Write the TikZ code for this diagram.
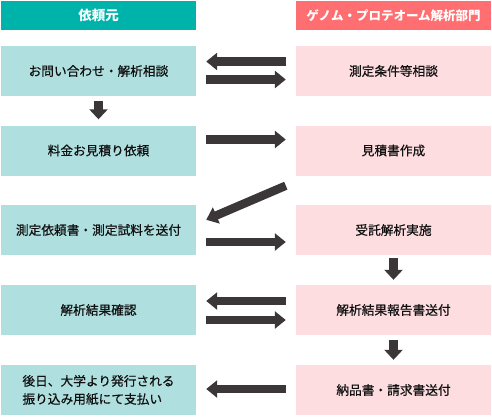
\documentclass[tikz,border=0pt]{standalone}
\usepackage{fontspec}
\newfontfamily\jp{Noto Sans CJK JP}
\newfontfamily\jpm[FakeBold=0.5]{Noto Sans CJK JP}
\usetikzlibrary{arrows.meta}
\definecolor{hdL}{HTML}{00B3AA}
\definecolor{hdR}{HTML}{FF6E70}
\definecolor{bxL}{HTML}{B0DFDF}
\definecolor{bxR}{HTML}{FDDDE0}
\definecolor{arr}{HTML}{3B3738}
\definecolor{txt}{HTML}{111111}
\begin{document}
\begin{tikzpicture}[x=1bp,y=-1bp,
  hdbox/.style={minimum width=195bp,minimum height=29bp,inner sep=0pt,text=white,font=\jp\bfseries\fontsize{12.5bp}{15bp}\selectfont},
  lbox/.style={fill=bxL,minimum width=195bp,minimum height=50bp,inner sep=0pt,text=txt,font=\jpm\fontsize{12.7bp}{18bp}\selectfont},
  rbox/.style={lbox,fill=bxR},
  bigarrow/.style={draw=arr,line width=8.5bp,-{Triangle[length=11bp,width=17bp]}},
  vbigarrow/.style={draw=arr,line width=8.5bp,-{Triangle[length=10bp,width=18bp]}}]
\useasboundingbox (0,0) rectangle (492,416);
\node[hdbox,fill=hdL,font=\jp\bfseries\fontsize{13.5bp}{15bp}\selectfont] (hL) at (98.5,15.5) {依頼元};
\node[hdbox,fill=hdR] (hR) at (393.5,15.5) {ゲノム・プロテオーム解析部門};
\node[lbox] (a1) at (98.5,71) {お問い合わせ・解析相談};
\node[rbox] (b1) at (393.5,71) {測定条件等相談};
\node[lbox] (a2) at (98.5,150.5) {料金お見積り依頼};
\node[rbox] (b2) at (393.5,150.5) {見積書作成};
\node[lbox] (a3) at (98.5,230) {測定依頼書・測定試料を送付};
\node[rbox] (b3) at (393.5,230) {受託解析実施};
\node[lbox] (a4) at (98.5,310) {解析結果確認};
\node[rbox] (b4) at (393.5,310) {解析結果報告書送付};
\node[lbox,align=left] (a5) at (98.5,390) {後日、大学より発行される\\振り込み用紙にて支払い};
\node[rbox] (b5) at (393.5,390) {納品書・請求書送付};
% row 1
\draw[bigarrow] ([xshift=-10bp,yshift=9.5bp]b1.west) -- ([xshift=10bp,yshift=9.5bp]a1.east);
\draw[bigarrow] ([xshift=10bp,yshift=-8.5bp]a1.east) -- ([xshift=-10bp,yshift=-8.5bp]b1.west);
\draw[vbigarrow] ([yshift=-5bp]a1.south) -- ([yshift=6bp]a2.north);
% row 2
\draw[bigarrow] ([xshift=10bp,yshift=11bp]a2.east) -- ([xshift=-10bp,yshift=11bp]b2.west);
\draw[bigarrow] ([xshift=-10bp,yshift=-10bp]b2.south west) -- ([xshift=10bp,yshift=-15bp]a3.north east);
% row 3
\draw[bigarrow] ([xshift=10bp,yshift=-12bp]a3.east) -- ([xshift=-10bp,yshift=-12bp]b3.west);
\draw[vbigarrow] ([yshift=-3bp]b3.south) -- ([yshift=5bp]b4.north);
% row 4
\draw[bigarrow] ([xshift=-10bp,yshift=9bp]b4.west) -- ([xshift=10bp,yshift=9bp]a4.east);
\draw[bigarrow] ([xshift=10bp,yshift=-10bp]a4.east) -- ([xshift=-10bp,yshift=-10bp]b4.west);
\draw[vbigarrow] ([yshift=-5bp]b4.south) -- ([yshift=5bp]b5.north);
% row 5
\draw[bigarrow] ([xshift=-10bp,yshift=1bp]b5.west) -- ([xshift=10bp,yshift=1bp]a5.east);
\end{tikzpicture}
\end{document}
